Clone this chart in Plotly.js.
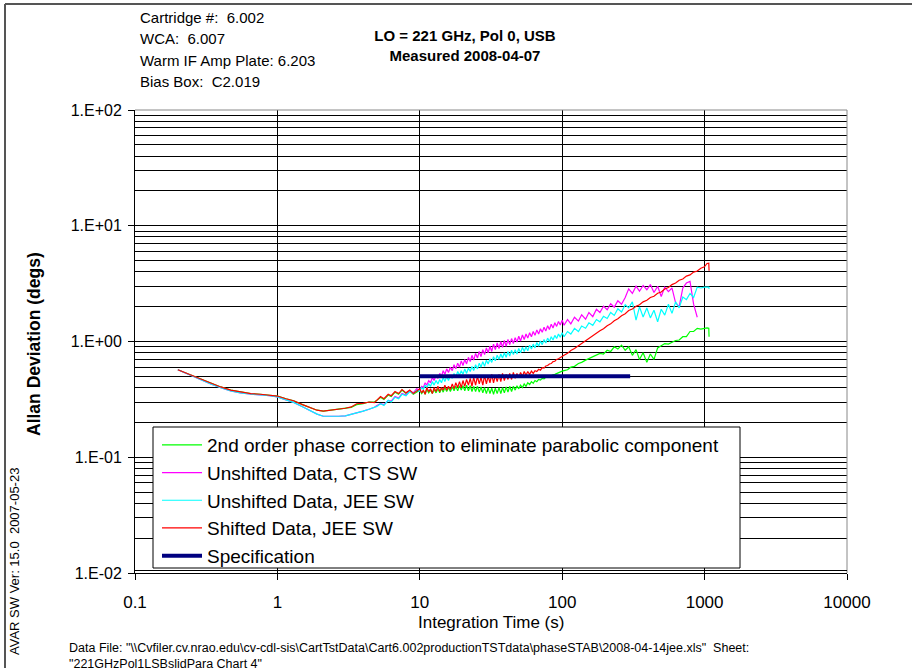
<!DOCTYPE html>
<html><head><meta charset="utf-8">
<script src="https://cdn.plot.ly/plotly-3.0.1.min.js"></script>
<style>html,body{margin:0;padding:0;background:#fff}#chart{width:912px;height:668px}</style>
</head><body><div id="chart"></div>
<script>
// ---- data ----
const tau = [0.2, 0.24, 0.29, 0.34, 0.4, 0.47, 0.55, 0.65, 0.76, 0.88, 1.0, 1.15, 1.3, 1.5, 1.7, 1.9, 2.1, 2.4, 2.7, 3.0, 3.3, 3.6, 4.0, 4.4, 4.8,
  5.0, 5.3, 5.6, 6.0, 6.3, 6.7, 7.1, 7.5, 8.0, 8.5, 9.0, 9.5,
  10.0, 10.3, 10.6, 10.9, 11.2, 11.55, 11.9, 12.25, 12.6, 13.0, 13.4, 13.8, 14.2, 14.6, 15.0, 15.45, 15.9, 16.4, 16.9, 17.4,
  17.9, 18.45, 19.0, 19.55, 20.1, 20.7, 21.3, 21.95, 22.6, 23.25, 23.9, 24.65, 25.4, 26.15, 26.9, 27.7, 28.5, 29.35, 30.2, 31.1,
  32.0, 32.95, 33.9, 34.95, 36.0, 37.05, 38.1, 39.25, 40.4, 41.6, 42.8, 44.1, 45.4, 46.75, 48.1, 49.55, 51.0, 52.55, 54.1, 55.7,
  57.3, 59.05, 60.8, 62.6, 64.4, 66.35, 68.3, 70.35, 72.4, 74.55, 76.7, 79.0, 81.3, 83.75, 86.2, 88.8, 91.4, 94.15, 96.9, 99.9,
  103, 109, 115, 122, 130, 137, 146, 154, 164, 174, 184, 195, 207, 219, 232, 246, 261, 277, 293, 311,
  330, 349, 370, 393, 416, 441, 468, 496, 525, 557, 590, 626, 663, 703, 745, 790, 837, 888, 941, 997,
  1040, 1070, 1075];

const secondOrder = [0.57, 0.52, 0.47, 0.435, 0.405, 0.38, 0.365, 0.355, 0.35, 0.345, 0.338, 0.32, 0.308, 0.285, 0.268, 0.255, 0.25, 0.255, 0.26, 0.265, 0.27, 0.285, 0.29, 0.30, 0.30,
  0.31, 0.33, 0.315, 0.345, 0.335, 0.365, 0.35, 0.38, 0.355, 0.375, 0.35, 0.365,
  0.38, 0.355, 0.375, 0.35, 0.385, 0.36, 0.38, 0.355, 0.385, 0.36, 0.39, 0.36, 0.395, 0.365, 0.40, 0.37, 0.40, 0.37, 0.405, 0.375,
  0.41, 0.375, 0.415, 0.38, 0.415, 0.375, 0.42, 0.375, 0.415, 0.37, 0.41, 0.37, 0.41, 0.365, 0.405, 0.36, 0.40, 0.355, 0.40, 0.355,
  0.395, 0.35, 0.395, 0.355, 0.40, 0.355, 0.40, 0.36, 0.405, 0.365, 0.41, 0.37, 0.41, 0.38, 0.415, 0.39, 0.42, 0.40, 0.43, 0.41,
  0.44, 0.425, 0.45, 0.435, 0.46, 0.45, 0.47, 0.465, 0.48, 0.475, 0.49, 0.49, 0.50, 0.505, 0.515, 0.52, 0.53, 0.535, 0.545, 0.555,
  0.56, 0.57, 0.60, 0.61, 0.645, 0.66, 0.69, 0.71, 0.74, 0.76, 0.79, 0.78, 0.84, 0.82, 0.90, 0.86, 0.93, 0.84, 0.90, 0.76,
  0.85, 0.70, 0.80, 0.66, 0.78, 0.70, 0.88, 0.92, 0.96, 0.95, 0.99, 1.02, 1.03, 1.10, 1.10, 1.22, 1.22, 1.30, 1.28, 1.30,
  1.31, 1.30, 1.10];

const unshiftedCTS = [0.57, 0.515, 0.465, 0.43, 0.40, 0.375, 0.36, 0.35, 0.345, 0.34, 0.332, 0.312, 0.298, 0.273, 0.253, 0.236, 0.226, 0.225, 0.226, 0.228, 0.235, 0.24, 0.25, 0.26, 0.27,
  0.28, 0.29, 0.285, 0.31, 0.305, 0.335, 0.325, 0.355, 0.345, 0.375, 0.36, 0.39,
  0.38, 0.41, 0.40, 0.44, 0.42, 0.46, 0.44, 0.49, 0.46, 0.51, 0.48, 0.53, 0.50, 0.56, 0.52, 0.58, 0.54, 0.60, 0.56, 0.63,
  0.58, 0.65, 0.60, 0.68, 0.62, 0.70, 0.64, 0.73, 0.67, 0.76, 0.69, 0.79, 0.72, 0.82, 0.74, 0.85, 0.77, 0.88, 0.80, 0.91,
  0.82, 0.95, 0.85, 0.97, 0.87, 1.00, 0.89, 1.02, 0.91, 1.04, 0.94, 1.06, 0.96, 1.08, 0.99, 1.11, 1.01, 1.14, 1.04, 1.16,
  1.07, 1.19, 1.10, 1.22, 1.13, 1.26, 1.16, 1.29, 1.20, 1.33, 1.23, 1.37, 1.27, 1.41, 1.31, 1.45, 1.35, 1.49, 1.39, 1.53,
  1.38, 1.55, 1.42, 1.62, 1.50, 1.70, 1.56, 1.78, 1.64, 1.90, 1.78, 2.02, 1.88, 2.12, 1.98, 2.25, 2.10, 2.40, 2.85, 2.60,
  3.00, 2.72, 3.05, 2.80, 3.10, 2.65, 3.00, 2.45, 2.95, 2.70, 2.90, 2.15, 2.00, 2.90, 3.20, 3.30, 2.10, 1.62];

const unshiftedJEE = [0.57, 0.515, 0.465, 0.43, 0.40, 0.375, 0.36, 0.35, 0.345, 0.34, 0.332, 0.312, 0.298, 0.273, 0.253, 0.236, 0.226, 0.225, 0.226, 0.228, 0.235, 0.24, 0.25, 0.26, 0.27,
  0.275, 0.29, 0.28, 0.31, 0.30, 0.33, 0.32, 0.35, 0.34, 0.37, 0.355, 0.38,
  0.37, 0.40, 0.385, 0.42, 0.40, 0.43, 0.41, 0.45, 0.42, 0.46, 0.43, 0.47, 0.44, 0.49, 0.45, 0.50, 0.46, 0.51, 0.48, 0.53,
  0.49, 0.55, 0.51, 0.56, 0.52, 0.58, 0.53, 0.59, 0.55, 0.61, 0.56, 0.63, 0.58, 0.65, 0.60, 0.67, 0.61, 0.69, 0.64, 0.71,
  0.66, 0.74, 0.68, 0.76, 0.70, 0.78, 0.72, 0.80, 0.73, 0.82, 0.75, 0.84, 0.77, 0.85, 0.78, 0.87, 0.80, 0.89, 0.82, 0.90,
  0.83, 0.93, 0.86, 0.95, 0.88, 0.98, 0.91, 1.01, 0.94, 1.04, 0.97, 1.07, 1.00, 1.10, 1.03, 1.13, 1.06, 1.16, 1.09, 1.19,
  1.10, 1.22, 1.16, 1.30, 1.22, 1.36, 1.30, 1.45, 1.38, 1.55, 1.48, 1.65, 1.58, 1.78, 1.68, 1.92, 1.80, 2.08, 1.95, 2.20,
  1.53, 1.99, 1.63, 1.95, 1.60, 1.86, 1.48, 1.90, 1.69, 2.10, 1.75, 2.20, 1.95, 2.42, 2.30, 2.60, 2.40, 2.95, 2.90, 2.95,
  2.95, 2.95, 2.85];

const shiftedJEE = [0.57, 0.52, 0.47, 0.435, 0.405, 0.38, 0.365, 0.355, 0.35, 0.345, 0.338, 0.32, 0.308, 0.285, 0.268, 0.255, 0.25, 0.255, 0.26, 0.265, 0.272, 0.29, 0.292, 0.30, 0.296,
  0.31, 0.335, 0.32, 0.35, 0.34, 0.37, 0.355, 0.385, 0.36, 0.38, 0.355, 0.37,
  0.39, 0.36, 0.38, 0.35, 0.40, 0.37, 0.39, 0.355, 0.40, 0.37, 0.41, 0.37, 0.40, 0.38, 0.42, 0.38, 0.41, 0.385, 0.43, 0.39,
  0.44, 0.40, 0.45, 0.40, 0.46, 0.41, 0.47, 0.42, 0.48, 0.41, 0.49, 0.42, 0.50, 0.43, 0.49, 0.42, 0.51, 0.43, 0.50, 0.44,
  0.52, 0.44, 0.51, 0.45, 0.52, 0.45, 0.53, 0.46, 0.52, 0.47, 0.53, 0.47, 0.54, 0.48, 0.53, 0.49, 0.54, 0.50, 0.55, 0.51,
  0.55, 0.52, 0.555, 0.53, 0.56, 0.55, 0.575, 0.565, 0.595, 0.59, 0.615, 0.62, 0.64, 0.645, 0.67, 0.675, 0.70, 0.71, 0.73, 0.745,
  0.76, 0.79, 0.835, 0.87, 0.92, 0.95, 1.01, 1.05, 1.12, 1.17, 1.24, 1.29, 1.37, 1.42, 1.51, 1.57, 1.67, 1.74, 1.85, 1.91,
  2.02, 2.08, 2.20, 2.27, 2.40, 2.46, 2.61, 2.68, 2.84, 2.93, 3.10, 3.20, 3.38, 3.47, 3.67, 3.76, 3.98, 4.06, 4.30, 4.42,
  4.72, 4.75, 4.08];

const specTau = [10, 300];
const specValue = [0.5, 0.5];

const seriesNames = ['2nd order phase correction to eliminate parabolic component',
  'Unshifted Data, CTS SW', 'Unshifted Data, JEE SW', 'Shifted Data, JEE SW', 'Specification'];
const seriesColors = ['#00ff00', '#ff00ff', '#00ffff', '#ff0000', '#000080'];

const xTickVals = [0.1, 1, 10, 100, 1000, 10000];
const xTickText = ['0.1', '1', '10', '100', '1000', '10000'];
const yTickVals = [0.01, 0.1, 1, 10, 100];
const yTickText = ['1.E-02', '1.E-01', '1.E+00', '1.E+01', '1.E+02'];

const infoLines = ['Cartridge #:\u00a0 6.002', 'WCA:\u00a0 6.007', 'Warm IF Amp Plate: 6.203', 'Bias Box:\u00a0 C2.019'];
const titleLines = ['LO = 221 GHz, Pol 0, USB', 'Measured 2008-04-07'];
const dataFileLines = ['Data File: "\\\\Cvfiler.cv.nrao.edu\\cv-cdl-sis\\CartTstData\\Cart6.002productionTSTdata\\phaseSTAB\\2008-04-14jee.xls"\u00a0\u00a0Sheet:',
  '"221GHzPol1LSBslidPara Chart 4"'];

// ---- geometry ----
const W = 912, H = 668, L = 135, R = 65, T = 110, B = 95;
const PW = W - L - R, PH = H - T - B;
const px = x => (x - L) / PW;
const py = y => (H - B - y) / PH;
const FONT = 'Liberation Sans, Arial, sans-serif';

const yMinor = [];
for (let e = -2; e < 2; e++) for (let d = 2; d <= 9; d++) yMinor.push(d * Math.pow(10, e));

const ySeries = [secondOrder, unshiftedCTS, unshiftedJEE, shiftedJEE];
const traces = ySeries.map((ys, i) => ({
  type: 'scatter', mode: 'lines', x: tau, y: ys, name: seriesNames[i], legendgroup: 'g' + i,
  line: {color: seriesColors[i], width: 1.2}
}));
traces.push({type: 'scatter', mode: 'lines', x: specTau, y: specValue, name: seriesNames[4], legendgroup: 'g4',
  line: {color: seriesColors[4], width: 4}});

const annotations = [];
infoLines.forEach((t, i) => annotations.push({text: t, xref: 'paper', yref: 'paper', x: px(138), y: py(17 + 21.6 * i),
  xanchor: 'left', yanchor: 'middle', showarrow: false, font: {family: FONT, size: 15, color: '#000'}}));
annotations.push({text: '<b>Allan Deviation (degs)</b>', textangle: -90, xref: 'paper', yref: 'paper', x: px(34), y: py(344),
  xanchor: 'center', yanchor: 'middle', showarrow: false, font: {family: FONT, size: 17.5, color: '#000'}});
annotations.push({text: 'AVAR SW Ver: 15.0\u00a0\u00a02007-05-23', textangle: -90, xref: 'paper', yref: 'paper', x: px(14), y: py(562),
  xanchor: 'center', yanchor: 'middle', showarrow: false, font: {family: FONT, size: 13, color: '#000'}});
annotations.push({text: 'Integration Time (s)', xref: 'paper', yref: 'paper', x: px(491), y: py(622),
  xanchor: 'center', yanchor: 'middle', showarrow: false, font: {family: FONT, size: 17, color: '#000'}});
dataFileLines.forEach((t, i) => annotations.push({text: t, xref: 'paper', yref: 'paper', x: px(67), y: py(648 + 16 * i),
  xanchor: 'left', yanchor: 'middle', showarrow: false, font: {family: FONT, size: 12.5, color: '#000'}}));

const shapes = [
  // outer chart border
  {type: 'line', xref: 'paper', yref: 'paper', x0: px(5), x1: px(920), y0: py(4), y1: py(4), line: {color: '#555', width: 2}},
  {type: 'line', xref: 'paper', yref: 'paper', x0: px(5), x1: px(5), y0: py(4), y1: py(680), line: {color: '#555', width: 2}},
  // plot area border (top / right)
  {type: 'line', xref: 'paper', yref: 'paper', x0: 0, x1: 1, y0: 1, y1: 1, layer: 'above', line: {color: '#888', width: 1}},
  {type: 'line', xref: 'paper', yref: 'paper', x0: 1, x1: 1, y0: 0, y1: 1, layer: 'above', line: {color: '#888', width: 1}},
  // legend box
  {type: 'rect', xref: 'paper', yref: 'paper', x0: px(153), x1: px(740), y0: py(568), y1: py(427), layer: 'above',
    fillcolor: '#fff', line: {color: '#000', width: 1}},
  {type: 'line', xref: 'paper', yref: 'paper', x0: 0, x1: 1, y0: 2.5 / PH, y1: 2.5 / PH, layer: 'above', line: {color: '#000', width: 1}}
];

const layout = {
  width: W, height: H, margin: {l: L, r: R, t: T, b: B},
  paper_bgcolor: '#fff', plot_bgcolor: '#fff',
  font: {family: FONT, color: '#000'},
  title: {text: '<b>' + titleLines.join('<br>') + '</b>', font: {family: FONT, size: 15, color: '#000'},
    xref: 'container', yref: 'container', x: 465 / W, xanchor: 'center', y: 1 - 41 / H, yanchor: 'middle'},
  showlegend: true,
  legend: {x: px(157), y: py(426), xanchor: 'left', yanchor: 'top', bgcolor: 'rgba(0,0,0,0)', borderwidth: 0,
    font: {family: FONT, size: 19, color: '#000'}, itemwidth: 40, traceorder: 'grouped', tracegroupgap: 0},
  xaxis: {type: 'log', range: [-1, 4], tickvals: xTickVals, ticktext: xTickText, showgrid: true, gridcolor: '#000', gridwidth: 1,
    showline: true, linecolor: '#000', linewidth: 1, ticks: 'outside', ticklen: 6, tickcolor: '#000', zeroline: false,
    tickfont: {family: FONT, size: 17, color: '#000'}, ticklabelstandoff: 8, fixedrange: true},
  yaxis: {type: 'log', range: [-2, 2], tickvals: yTickVals, ticktext: yTickText, showgrid: true, gridcolor: '#000', gridwidth: 1,
    minor: {tickvals: yMinor, showgrid: true, gridcolor: '#000', gridwidth: 1, ticks: ''},
    showline: true, linecolor: '#000', linewidth: 1, ticks: 'outside', ticklen: 6, tickcolor: '#000', zeroline: false,
    tickfont: {family: FONT, size: 16, color: '#000'}, ticklabelstandoff: 3, fixedrange: true},
  shapes: shapes, annotations: annotations
};

Plotly.newPlot('chart', traces, layout, {staticPlot: true, displayModeBar: false});
</script></body></html>
